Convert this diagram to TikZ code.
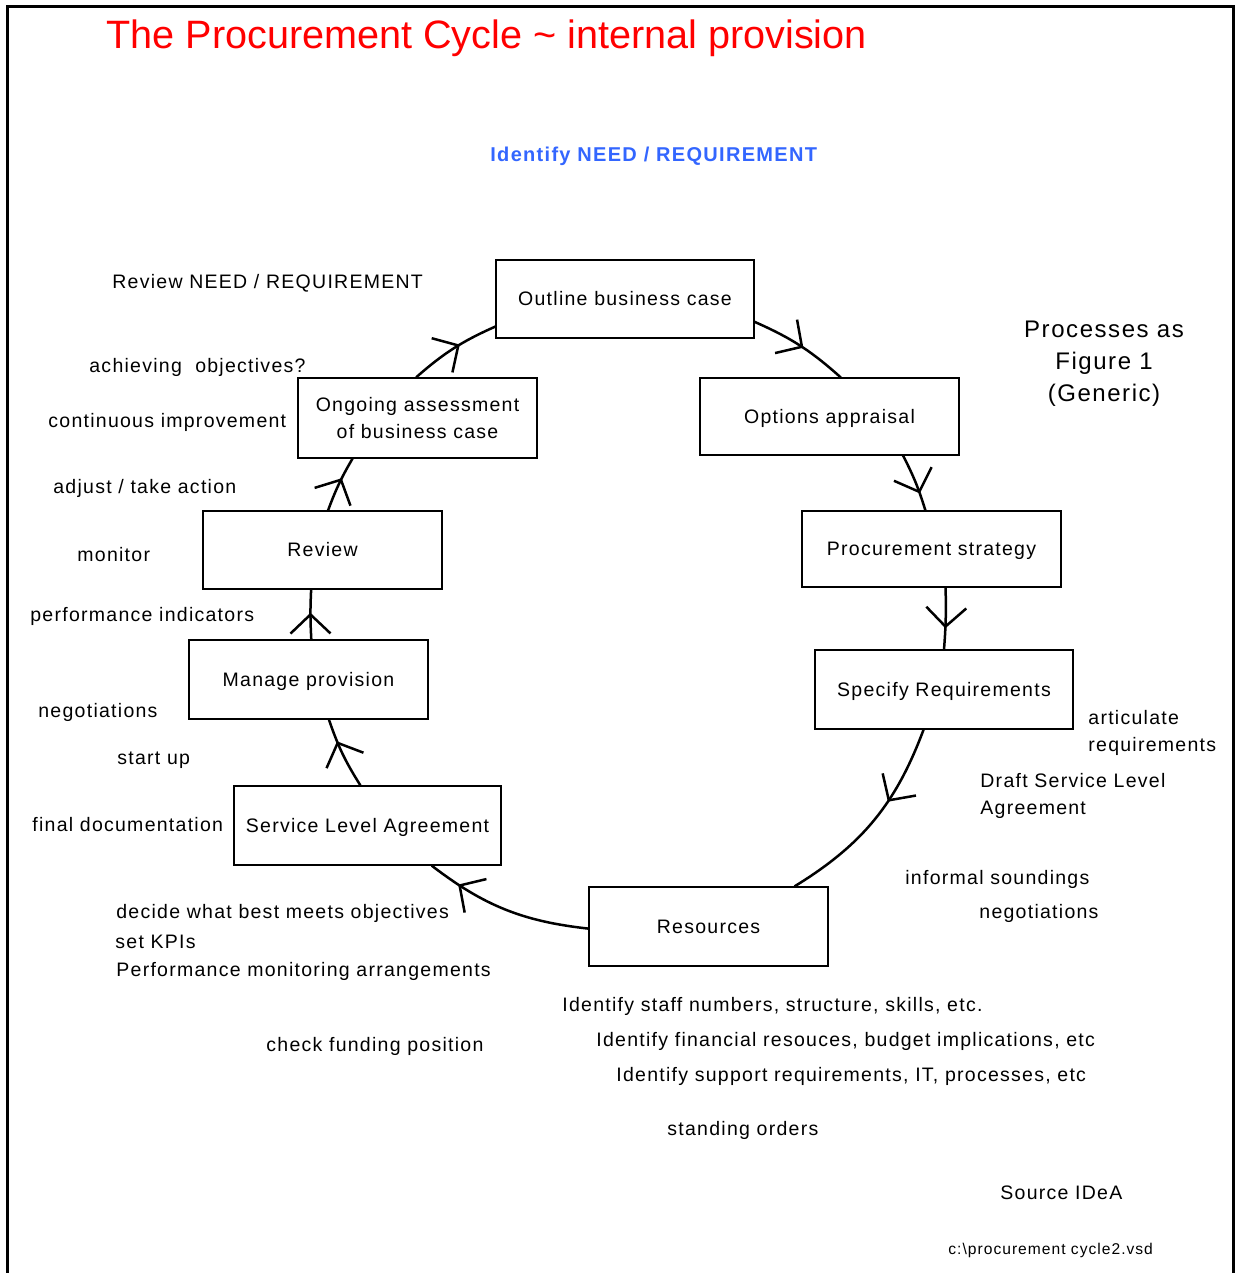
\documentclass[tikz,border=0pt]{standalone}
\usepackage{fontspec}
\setmainfont{Liberation Sans}
\newfontfamily\spacedfont{Liberation Sans}[LetterSpace=6.5]
\newfontfamily\titlefont{Liberation Sans}
\usetikzlibrary{decorations.markings}
\definecolor{titlered}{RGB}{255,0,0}
\definecolor{needblue}{RGB}{51,102,255}
\newcommand{\bodyfont}{\spacedfont\fontsize{9.75pt}{13.5pt}\selectfont}
\tikzset{
  box/.style={draw, line width=0.6pt, fill=white, inner sep=0pt, align=center, font=\bodyfont},
  sbox/.style={box, text height=8.5pt, text depth=2pt},
  txt/.style={anchor=base west, inner sep=0pt, font=\bodyfont},
  conn/.style={line width=1.25pt},
  chev/.style={postaction={decorate,decoration={markings,mark=at position #1 with {\draw[line width=1.25pt] (-9.5pt,10pt)--(0pt,0pt)--(-9.5pt,-10pt);}}}}
}
\begin{document}
\begin{tikzpicture}[x=0.5pt,y=0.5pt]
\useasboundingbox (0,0) rectangle (1236,-1273);
% frame
\draw[line width=1.5pt] (7,-1273) -- (7,-7) -- (1233,-7) -- (1233,-1273);
% title
\node[anchor=base west, inner sep=0pt, text=titlered, font=\titlefont\fontsize{19.8pt}{24pt}\selectfont] (title) at (106,-49) {The Procurement Cycle \textasciitilde\ internal provision};
\node[anchor=base west, inner sep=0pt, text=needblue, font=\spacedfont\bfseries\fontsize{10pt}{12pt}\selectfont] (ident) at (490,-162) {Identify NEED / REQUIREMENT};
% boxes
\node[sbox, minimum width=129pt, minimum height=39pt] (outline) at (625,-299) {Outline business case};
\node[sbox, minimum width=129.5pt, minimum height=38.5pt] (options) at (829.5,-416.5) {Options appraisal};
\node[sbox, minimum width=129.5pt, minimum height=38pt] (procure) at (931.5,-549) {Procurement strategy};
\node[sbox, minimum width=129pt, minimum height=39.5pt] (specify) at (944,-689.5) {Specify Requirements};
\node[sbox, minimum width=119.5pt, minimum height=39.5pt] (resources) at (708.5,-926.5) {Resources};
\node[sbox, minimum width=133.5pt, minimum height=39.5pt] (sla) at (367.5,-825.5) {Service Level Agreement};
\node[sbox, minimum width=119.5pt, minimum height=39.5pt] (manage) at (308.5,-679.5) {Manage provision};
\node[sbox, minimum width=119.5pt, minimum height=39pt] (review) at (322.5,-550) {Review};
\node[box, minimum width=119.5pt, minimum height=40pt] (ongoing) at (417.5,-418) {Ongoing assessment\\of business case};
% connectors
\draw[conn, chev=0.52] (outline.-10.5) to[bend left=9] (options.74.7);
\draw[conn, chev=0.67] (options.-28.3) to[bend left=5] (procure.99.7);
\draw[conn, chev=0.63] (procure.-70.4) to[bend left=3] (specify.90);
\draw[conn, chev=0.38] (specify.-117.4) to[bend left=19] (resources.25.9);
\draw[conn, chev=0.80] (resources.181.7) to[bend left=15.6] (sla.-32.5);
\draw[conn, chev=0.66] (sla.100.8) to[bend left=6.7] (manage.-63.7);
\draw[conn, chev=0.5] (manage.86.4) to[bend left=3] (review.-106.4);
\draw[conn, chev=0.58] (review.82) to[bend left=5] (ongoing.-148.6);
\draw[conn, chev=0.56] (ongoing.92.1) to[bend left=8.7] (outline.-168.6);
% side texts
\node[txt] (treview) at (112,-288) {Review NEED / REQUIREMENT};
\node[txt] (tachieve) at (89,-372) {achieving~~objectives?};
\node[txt] (tcont) at (48,-427) {continuous improvement};
\node[txt] (tadjust) at (53,-493) {adjust / take action};
\node[txt] (tmonitor) at (77,-561) {monitor};
\node[txt] (tperf) at (30,-621) {performance indicators};
\node[txt] (tneg1) at (38,-717) {negotiations};
\node[txt] (tstart) at (117,-764) {start up};
\node[txt] (tfinal) at (32,-831) {final documentation};
\node[txt] (tdecide) at (116,-918) {decide what best meets objectives};
\node[txt] (tkpi) at (115,-948) {set KPIs};
\node[txt] (tpmon) at (116,-976) {Performance monitoring arrangements};
\node[txt] (tfund) at (266,-1051) {check funding position};
\node[txt] (tstaff) at (562,-1011) {Identify staff numbers, structure, skills, etc.};
\node[txt] (tfin) at (596,-1046) {Identify financial resouces, budget implications, etc};
\node[txt] (tsupp) at (616,-1081) {Identify support requirements, IT, processes, etc};
\node[txt] (tstand) at (667,-1135) {standing orders};
\node[txt] (tsource) at (1000,-1199) {Source IDeA};
\node[txt, font=\spacedfont\fontsize{7.8pt}{9pt}\selectfont] (tfile) at (948,-1254) {c:\textbackslash procurement cycle2.vsd};
\node[txt] (tinf) at (905,-884) {informal soundings};
\node[txt] (tneg2) at (979,-918) {negotiations};
\node[anchor=west, inner sep=0pt, align=left, font=\bodyfont] (tartic) at (1088,-733) {articulate\\requirements};
\node[anchor=west, inner sep=0pt, align=left, font=\bodyfont] (tdraft) at (980,-796) {Draft Service Level\\Agreement};
\node[anchor=center, inner sep=0pt, align=center, font=\spacedfont\fontsize{12pt}{16pt}\selectfont] (tproc) at (1104,-364) {Processes as\\Figure 1\\(Generic)};
\end{tikzpicture}
\end{document}
